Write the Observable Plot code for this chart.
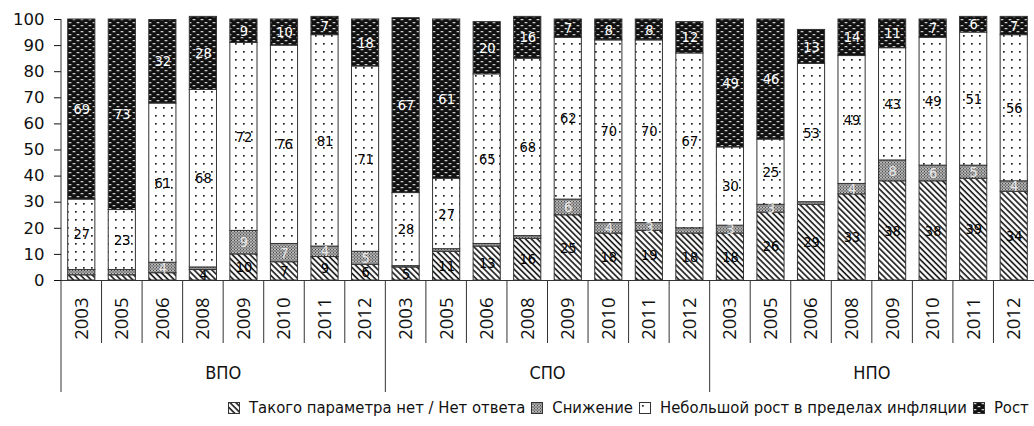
<!DOCTYPE html>
<html>
<head>
<meta charset="utf-8">
<script src="https://cdn.jsdelivr.net/npm/d3@7"></script>
<script src="https://cdn.jsdelivr.net/npm/@observablehq/plot@0.6"></script>
<style>
  html, body { margin: 0; padding: 0; background: #fff; }
  #wrap { position: relative; width: 1034px; height: 426px; overflow: hidden; }
  #legend { position: absolute; top: 398px; left: 228px; display: flex; align-items: center; white-space: nowrap;
    font-family: "DejaVu Sans Condensed", "DejaVu Sans", sans-serif; font-stretch: condensed; font-size: 16.5px;
    color: #111; }
  #legend .item { display: flex; align-items: center; margin-right: 6px; }
  #legend svg { margin-right: 9px; }
</style>
</head>
<body>
<svg width="0" height="0" style="position:absolute">
  <defs>
    <pattern id="pHatch" patternUnits="userSpaceOnUse" width="4.2" height="4.2" patternTransform="rotate(-45)">
      <rect width="4.2" height="4.2" fill="#fff"/>
      <line x1="1" y1="0" x2="1" y2="4.2" stroke="#111" stroke-width="1.6"/>
    </pattern>
    <pattern id="pDecline" patternUnits="userSpaceOnUse" width="3" height="3">
      <rect width="3" height="3" fill="#a0a0a0"/>
      <rect x="0" y="0" width="1" height="1" fill="#4a4a4a"/>
      <rect x="1.5" y="1.5" width="1" height="1" fill="#4a4a4a"/>
      <rect x="1.5" y="0" width="1" height="1" fill="#d8d8d8"/>
    </pattern>
    <pattern id="pDots" patternUnits="userSpaceOnUse" width="8" height="8">
      <rect width="8" height="8" fill="#fff"/>
      <rect x="3" y="3" width="1.7" height="1.7" fill="#222"/>
    </pattern>
    <pattern id="pRise" patternUnits="userSpaceOnUse" width="8" height="6">
      <rect width="8" height="6" fill="#111"/>
      <rect x="0.5" y="1" width="3" height="1.3" rx="0.6" fill="#ccc"/>
      <rect x="4.5" y="4" width="3" height="1.3" rx="0.6" fill="#ccc"/>
    </pattern>
  </defs>
</svg>
<div id="wrap">
  <div id="chart"></div>
  <div id="legend"></div>
</div>
<script>
const groups = ["ВПО", "СПО", "НПО"];
const years = ["2003", "2005", "2006", "2008", "2009", "2010", "2011", "2012"];
const series = ["Такого параметра нет / Нет ответа", "Снижение", "Небольшой рост в пределах инфляции", "Рост"];
// values per bar, in order ВПО 2003..2012, СПО 2003..2012, НПО 2003..2012
const noAnswer  = [2, 2, 2.8, 4, 10, 7, 9, 6,   5, 11, 13, 16, 25, 18, 19, 18,   18, 26, 29, 33, 38, 38, 39, 34];
const decline   = [2, 2, 4, 1, 9, 7, 4, 5,      0.5, 1, 1, 1, 6, 4, 3, 2,        3, 3, 1, 4, 8, 6, 5, 4];
const smallRise = [27, 23, 61, 68, 72, 76, 81, 71,  28, 27, 65, 68, 62, 70, 70, 67,  30, 25, 53, 49, 43, 49, 51, 56];
const rise      = [69, 73, 32, 28, 9, 10, 7, 18,    67, 61, 20, 16, 7, 8, 8, 12,     49, 46, 13, 14, 11, 7, 6, 7];

const patternOf = {
  [series[0]]: "url(#pHatch)",
  [series[1]]: "url(#pDecline)",
  [series[2]]: "url(#pDots)",
  [series[3]]: "url(#pRise)"
};
const labelColor = {
  [series[0]]: "#000",
  [series[1]]: "#e8e8e8",
  [series[2]]: "#000",
  [series[3]]: "#fff"
};

const keys = [];
groups.forEach(g => years.forEach(y => keys.push(g + " " + y)));
const seriesValues = [noAnswer, decline, smallRise, rise];
const data = [];
keys.forEach((k, i) => {
  series.forEach((s, j) => data.push({key: k, series: s, value: seriesValues[j][i]}));
});

const chart = Plot.plot({
  width: 1034,
  height: 392,
  marginLeft: 61,
  marginRight: 0,
  marginTop: 19,
  marginBottom: 112,
  style: {fontFamily: "DejaVu Sans, sans-serif", fontSize: "15px", color: "#111", background: "transparent"},
  color: {type: "identity"},
  x: {domain: keys, paddingInner: 0.33, paddingOuter: 0.165, round: false, axis: null},
  y: {domain: [0, 100], axis: null},
  marks: [
    Plot.barY(data, Plot.stackY({
      x: "key", y: "value", z: "series", order: series,
      fill: d => patternOf[d.series], stroke: "#333", strokeWidth: 1
    })),
    Plot.text(data, Plot.stackY({
      x: "key", y: "value", z: "series", order: series,
      text: d => d.value >= 3 ? String(d.value) : "",
      fill: d => labelColor[d.series],
      fontFamily: "DejaVu Sans Condensed, DejaVu Sans, sans-serif",
      fontSize: 14.5
    })),
    Plot.axisX({
      tickFormat: k => k.split(" ")[1], tickRotate: -90, tickSize: 0, tickPadding: 17,
      label: null, fontSize: 18.5, fontFamily: "Open Sans, Noto Sans, sans-serif"
    }),
    Plot.axisY({
      ticks: d3.range(0, 101, 10), tickSize: 7, tickPadding: 10, label: null,
      fontSize: 16.5, fontFamily: "DejaVu Sans, sans-serif"
    }),
    Plot.ruleY([0], {stroke: "#333"})
  ]
});
document.getElementById("chart").appendChild(chart);

// separators and group labels, placed from the library's scales
const xs = chart.scale("x");
const ys = chart.scale("y");
const gap = xs.step - xs.bandwidth;
const svg = d3.select(chart);
const deco = svg.append("g").attr("stroke", "#333").attr("stroke-width", 1);
keys.forEach((k, i) => {
  const edge = xs.apply(k) - gap / 2;
  const long = i % years.length === 0;
  deco.append("line")
    .attr("x1", edge).attr("x2", edge)
    .attr("y1", i === 0 ? ys.apply(100) : ys.apply(0))
    .attr("y2", long ? 392 : 343);
});
groups.forEach((g, gi) => {
  const midKey = keys[gi * years.length + years.length / 2];
  const cx = xs.apply(midKey) - gap / 2;
  svg.append("text")
    .attr("x", cx).attr("y", 374)
    .attr("text-anchor", "middle").attr("dominant-baseline", "middle")
    .attr("font-family", "DejaVu Sans Condensed, DejaVu Sans, sans-serif")
    .attr("font-size", 18).attr("fill", "#111")
    .text(g);
});

// legend
const legend = d3.select("#legend");
series.forEach(s => {
  const item = legend.append("div").attr("class", "item");
  const sw = item.append("svg").attr("width", 12).attr("height", 12);
  sw.append("rect").attr("x", 0.5).attr("y", 0.5).attr("width", 11).attr("height", 11)
    .attr("fill", patternOf[s]).attr("stroke", "#333");
  item.append("span").text(s);
});
</script>
</body>
</html>
